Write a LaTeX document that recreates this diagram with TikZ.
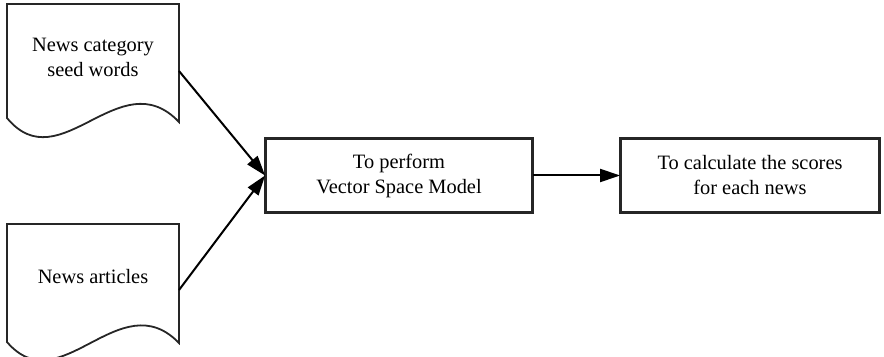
\documentclass[tikz,border=0pt]{standalone}
\usepackage{fontspec}
\setmainfont{Liberation Serif}
\usetikzlibrary{arrows.meta}
\begin{document}
\begin{tikzpicture}[x=0.5pt,y=-0.5pt,
  outline/.style={draw=black!85, line width=0.9pt, line join=miter},
  label/.style={align=center, font=\fontsize{10.2}{12.5}\selectfont, inner sep=0pt},
  procbox/.style={outline, rectangle, minimum width=#1, minimum height=36.5pt, inner sep=0pt},
  flow/.style={line width=1pt, -{Triangle[length=10pt,width=6.5pt]}}]
  \useasboundingbox (0,0) rectangle (884,357);

  % document symbols (wavy bottom edge)
  \draw[outline] (7,118) -- (7,4) -- (179,4) -- (179,122)
    .. controls (120,60) and (60,182) .. cycle;
  \draw[outline] (7,342) -- (7,224) -- (179,224) -- (179,343)
    .. controls (120,282) and (60,404) .. cycle;
  \node[label] (seeds) at (93,57) {News category\\seed words};
  \node[label] (articles) at (93,277) {News articles};
  \coordinate (seedsout) at (179,71);
  \coordinate (articlesout) at (179,290);

  % processing steps
  \node[procbox=133pt, label] (vsm) at (399,175.5) {To perform\\Vector Space Model};
  \node[procbox=129pt, label] (scores) at (750,175.5) {To calculate the scores\\for each news};
  \draw[outline] (vsm.south west) rectangle (vsm.north east);
  \draw[outline] (scores.south west) rectangle (scores.north east);

  % connectors
  \draw[flow] (seedsout) -- (vsm.west);
  \draw[flow] (articlesout) -- (vsm.west);
  \draw[flow] (vsm.east) -- (scores.west);
\end{tikzpicture}
\end{document}
